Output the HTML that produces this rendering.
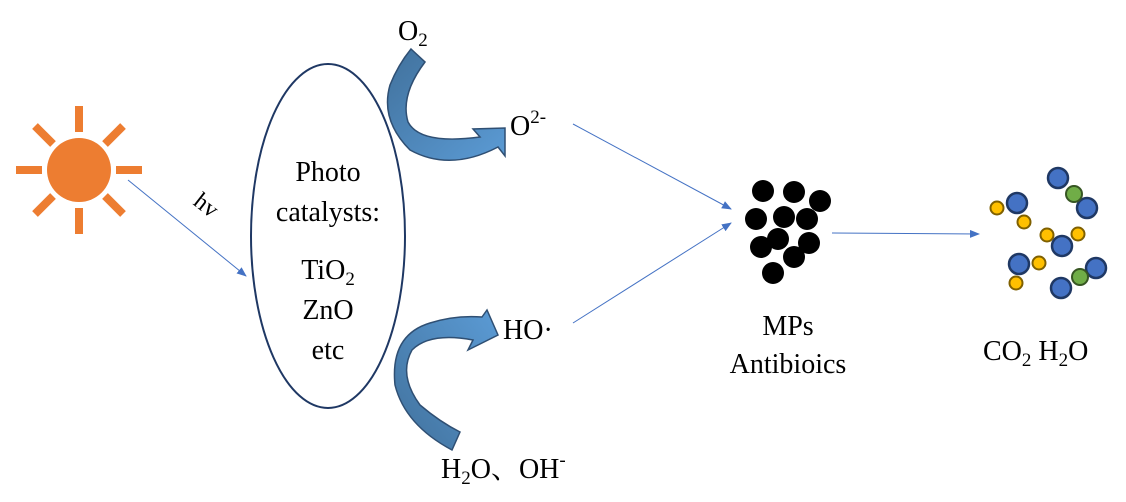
<!DOCTYPE html>
<html><head><meta charset="utf-8"><style>body{margin:0;background:#fff}svg{display:block}text{font-family:"Liberation Serif","Noto Serif CJK SC",serif;fill:#000}</style></head><body>
<svg width="1126" height="502" viewBox="0 0 1126 502" xmlns="http://www.w3.org/2000/svg">
<defs><marker id="a" markerWidth="10" markerHeight="8" refX="9" refY="4" orient="auto" markerUnits="userSpaceOnUse"><path d="M0,0 L10,4 L0,8Z" fill="#4472C4"/></marker>
<linearGradient id="g1" x1="0" y1="0" x2="1" y2="1"><stop offset="0" stop-color="#41719C"/><stop offset="1" stop-color="#5B9BD5"/></linearGradient>
<linearGradient id="g2" x1="1" y1="0" x2="0" y2="1"><stop offset="0" stop-color="#5B9BD5"/><stop offset="1" stop-color="#41719C"/></linearGradient></defs>
<g fill="#ED7D31"><circle cx="79" cy="170" r="32"/>
<g stroke="#ED7D31" stroke-width="8"><line x1="79" y1="106" x2="79" y2="132"/><line x1="79" y1="208" x2="79" y2="234"/><line x1="16" y1="170" x2="42" y2="170"/><line x1="116" y1="170" x2="142" y2="170"/><line x1="35" y1="126" x2="53" y2="144"/><line x1="105" y1="196" x2="123" y2="214"/><line x1="123" y1="126" x2="105" y2="144"/><line x1="53" y1="196" x2="35" y2="214"/></g></g>
<line x1="128" y1="180" x2="246" y2="276" stroke="#4472C4" stroke-width="1" marker-end="url(#a)"/>
<text x="190" y="210" font-size="24" transform="rotate(38 200 210)">hv</text>
<ellipse cx="328" cy="236" rx="77" ry="172" fill="none" stroke="#1F3864" stroke-width="2"/>
<g font-size="28" text-anchor="middle"><text x="328" y="181">Photo</text><text x="328" y="221">catalysts:</text><text x="328" y="279">TiO<tspan font-size="19" dy="6">2</tspan></text><text x="328" y="319">ZnO</text><text x="328" y="359">etc</text></g>
<path d="M411,49 L425,62 Q400,95 408,122 Q420,145 480,137 L473,129 L505,128 L505,156 L498,147 Q450,172 410,150 Q380,120 390,85 Q398,65 411,49Z" fill="url(#g1)" stroke="#2F4F73" stroke-width="1.5"/>
<path d="M482,317 L487,310 L498,335 L468,350 L473,340 Q430,332 412,350 Q398,375 420,405 Q440,422 460,432 L452,450 Q405,425 395,385 Q390,335 430,323 Q455,315 482,317Z" fill="url(#g2)" stroke="#2F4F73" stroke-width="1.5"/>
<text x="398" y="40" font-size="28">O<tspan font-size="19" dy="6">2</tspan></text>
<text x="510" y="135" font-size="28">O<tspan font-size="19" dy="-12">2-</tspan></text>
<text x="503" y="339" font-size="28">HO·</text>
<text x="441" y="478" font-size="28">H<tspan font-size="19" dy="6">2</tspan><tspan dy="-6">O、OH</tspan><tspan font-size="19" dy="-12">-</tspan></text>
<line x1="573" y1="124" x2="731" y2="209" stroke="#4472C4" stroke-width="1" marker-end="url(#a)"/>
<line x1="573" y1="323" x2="731" y2="223" stroke="#4472C4" stroke-width="1" marker-end="url(#a)"/>
<g fill="#000"><circle cx="763" cy="191" r="11"/><circle cx="794" cy="192" r="11"/><circle cx="820" cy="201" r="11"/><circle cx="756" cy="219" r="11"/><circle cx="784" cy="217" r="11"/><circle cx="807" cy="219" r="11"/><circle cx="778" cy="239" r="11"/><circle cx="761" cy="247" r="11"/><circle cx="809" cy="243" r="11"/><circle cx="794" cy="257" r="11"/><circle cx="773" cy="273" r="11"/></g>
<line x1="832" y1="233" x2="979" y2="234" stroke="#4472C4" stroke-width="1" marker-end="url(#a)"/>
<g font-size="28" text-anchor="middle"><text x="788" y="335">MPs</text><text x="788" y="373">Antibioics</text></g>
<text x="983" y="360" font-size="28">CO<tspan font-size="19" dy="6">2</tspan><tspan dy="-6"> H</tspan><tspan font-size="19" dy="6">2</tspan><tspan dy="-6">O</tspan></text>
<g stroke="#1F3864" stroke-width="2.5" fill="#4472C4"><circle cx="1058" cy="178" r="10"/><circle cx="1087" cy="208" r="10"/><circle cx="1017" cy="203" r="10"/><circle cx="1062" cy="246" r="10"/><circle cx="1019" cy="264" r="10"/><circle cx="1096" cy="268" r="10"/><circle cx="1061" cy="288" r="10"/></g>
<g stroke="#375623" stroke-width="2" fill="#70AD47"><circle cx="1074" cy="194" r="8"/><circle cx="1080" cy="277" r="8"/></g>
<g stroke="#7F6000" stroke-width="2" fill="#FFC000"><circle cx="997" cy="208" r="6.5"/><circle cx="1024" cy="222" r="6.5"/><circle cx="1047" cy="235" r="6.5"/><circle cx="1078" cy="234" r="6.5"/><circle cx="1039" cy="263" r="6.5"/><circle cx="1016" cy="283" r="6.5"/></g>
</svg>
</body></html>
